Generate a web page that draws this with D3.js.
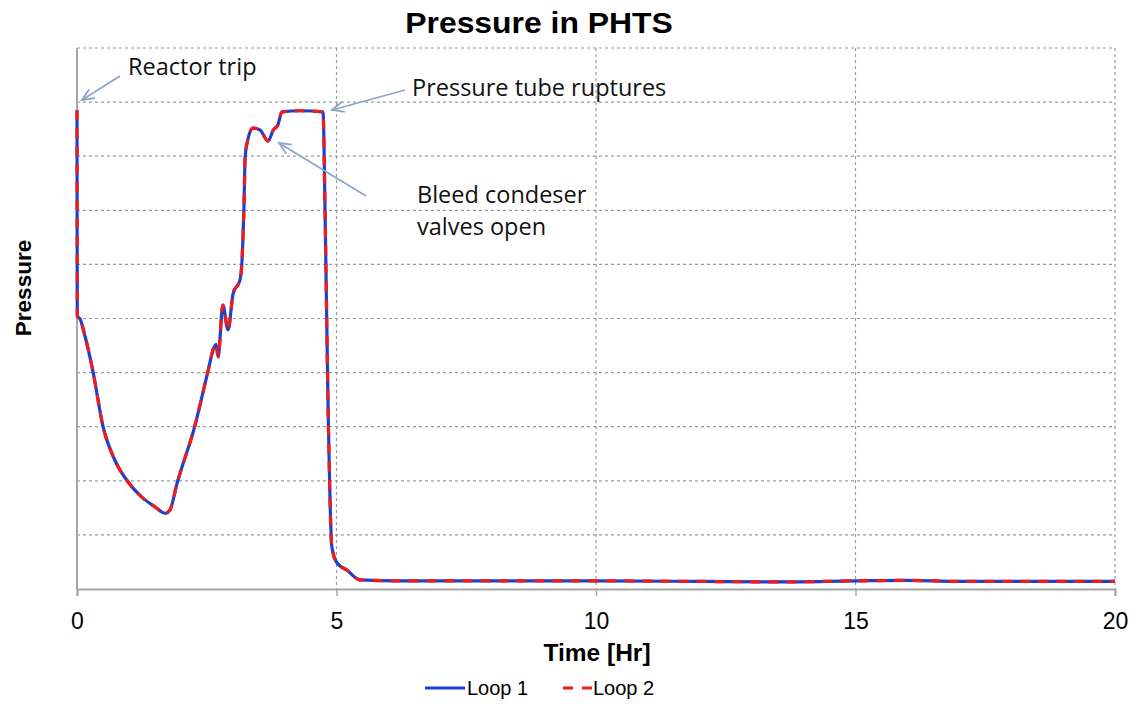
<!DOCTYPE html>
<html><head><meta charset="utf-8">
<script src="https://cdn.jsdelivr.net/npm/d3@7"></script>
<style>body{margin:0;background:#fff}svg{display:block}</style>
</head><body>
<svg id="c" width="1141" height="715"></svg>
<script>
const timeHr = [0,0.005,0.06,0.15,0.31,0.5,0.73,0.96,1.27,1.5,1.7,1.79,1.93,2.27,2.52,2.64,2.68,2.72,2.81,2.91,3.01,3.14,3.18,3.22,3.24,3.29,3.39,3.53,3.68,3.78,3.87,3.95,4.3,4.74,4.78,4.84,4.91,5.01,5.2,5.45,6.2,8,10,12,13.5,15,16,17,18,20];
const loop1 = [8.85,5.05,4.99,4.69,4.01,3.01,2.38,2.01,1.68,1.52,1.40,1.46,1.96,3.01,4.01,4.47,4.52,4.29,5.25,4.79,5.47,5.71,6.08,7.19,7.99,8.30,8.52,8.48,8.28,8.48,8.58,8.82,8.84,8.82,6.95,3.25,0.78,0.48,0.35,0.17,0.15,0.15,0.15,0.14,0.13,0.15,0.16,0.14,0.14,0.14];
const loop2 = loop1.slice();
const xTicks = [0,5,10,15,20];
const yGrid = [0,1,2,3,4,5,6,7,8,9,10];
const seriesNames = ["Loop 1","Loop 2"];

const svg = d3.select("#c");
const L=77,R=1115,T=48,B=589;
const x = d3.scaleLinear().domain([0,20]).range([L,R]);
const y = d3.scaleLinear().domain([0,10]).range([B,T]);
const AR = "Liberation Sans, Arial, sans-serif";

// grid
svg.append("g").selectAll("line").data(yGrid.slice(1)).join("line")
 .attr("x1",L).attr("x2",R).attr("y1",d=>y(d)).attr("y2",d=>y(d))
 .attr("stroke","#9a9a9a").attr("stroke-width",1.2).attr("stroke-dasharray","3,3");
svg.append("g").selectAll("line").data(xTicks.slice(1)).join("line")
 .attr("x1",d=>x(d)).attr("x2",d=>x(d)).attr("y1",T).attr("y2",B)
 .attr("stroke","#9a9a9a").attr("stroke-width",1.2).attr("stroke-dasharray","3,3");

// axes
const xa = svg.append("g").attr("transform",`translate(0,${B})`)
 .call(d3.axisBottom(x).tickValues(xTicks).tickSize(7).tickPadding(17).tickFormat(d3.format("d")));
xa.select(".domain").attr("stroke","#a6a6a6").attr("stroke-width",2);
xa.selectAll(".tick line").attr("stroke","#a6a6a6").attr("stroke-width",1.5);
xa.selectAll(".tick text").attr("font-family",AR).attr("font-size",23).attr("fill","#000");
svg.append("line").attr("x1",L).attr("x2",L).attr("y1",T).attr("y2",B).attr("stroke","#a6a6a6").attr("stroke-width",2);

// lines
const line = d3.line().x((d,i)=>x(timeHr[i])).y(d=>y(d)).curve(d3.curveMonotoneX);
svg.append("path").datum(loop1).attr("d",line).attr("fill","none").attr("stroke","#1f3fd0").attr("stroke-width",3.2);
svg.append("path").datum(loop2).attr("d",line).attr("fill","none").attr("stroke","#ee1c1c").attr("stroke-width",3.2).attr("stroke-dasharray","10,8");

// title & labels
svg.append("text").attr("transform","translate(539,33) scale(1.1,1)").attr("text-anchor","middle")
 .attr("font-family",AR).attr("font-weight","bold").attr("font-size",29).text("Pressure in PHTS");
svg.append("text").attr("transform","translate(31,288) rotate(-90)").attr("text-anchor","middle")
 .attr("font-family",AR).attr("font-weight","bold").attr("font-size",22.5).text("Pressure");
svg.append("text").attr("x",597).attr("y",661).attr("text-anchor","middle")
 .attr("font-family",AR).attr("font-weight","bold").attr("font-size",24.5).text("Time [Hr]");

// legend
const lg = svg.append("g").attr("font-family",AR).attr("font-size",20);
lg.append("line").attr("x1",425).attr("x2",465).attr("y1",688).attr("y2",688).attr("stroke","#1f3fd0").attr("stroke-width",3);
lg.append("text").attr("x",467).attr("y",695).text(seriesNames[0]);
lg.append("line").attr("x1",563).attr("x2",592).attr("y1",688).attr("y2",688).attr("stroke","#ee1c1c").attr("stroke-width",3).attr("stroke-dasharray","10,9");
lg.append("text").attr("x",593).attr("y",695).text(seriesNames[1]);

// annotations
const ac = "#8ea6c6";
function arrow(x1,y1,x2,y2){
  svg.append("line").attr("x1",x1).attr("y1",y1).attr("x2",x2).attr("y2",y2).attr("stroke",ac).attr("stroke-width",1.8);
  const a=Math.atan2(y2-y1,x2-x1), l=13, s=0.42;
  const p=[[x2-l*Math.cos(a-s),y2-l*Math.sin(a-s)],[x2,y2],[x2-l*Math.cos(a+s),y2-l*Math.sin(a+s)]];
  svg.append("path").attr("d",d3.line()(p)).attr("fill","none").attr("stroke",ac).attr("stroke-width",1.8);
}
arrow(120,76,82,100);
arrow(405,90,332,110);
arrow(366,196,279,143);
const at = svg.append("g").attr("font-family","Open Sans, sans-serif").attr("font-size",23.5).attr("fill","#111");
at.append("text").attr("x",128).attr("y",75).text("Reactor trip");
at.append("text").attr("x",412).attr("y",96).text("Pressure tube ruptures");
at.append("text").attr("x",417).attr("y",203).text("Bleed condeser");
at.append("text").attr("x",417).attr("y",235).text("valves open");
</script>
</body></html>
